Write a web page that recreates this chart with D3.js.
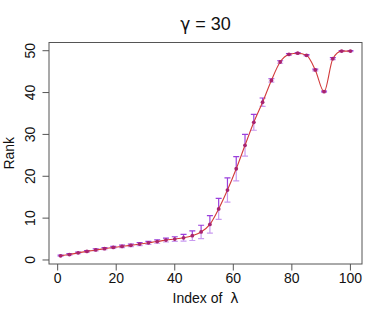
<!DOCTYPE html>
<html><head><meta charset="utf-8">
<script src="https://cdn.jsdelivr.net/npm/d3@7"></script>
<style>body{margin:0;background:#fff}svg{display:block}</style>
</head><body>
<script>
const xIndex = [1,4,7,10,13,16,19,22,25,28,31,34,37,40,43,46,49,52,55,58,61,64,67,70,73,76,79,82,85,88,91,94,97,100];
const rankMean = [1.0,1.3,1.7,2.05,2.4,2.7,3.0,3.25,3.5,3.8,4.1,4.4,4.75,5.0,5.3,5.8,6.7,8.5,12.2,16.7,21.8,27.4,32.9,37.7,42.9,47.3,49.1,49.4,48.9,45.4,40.2,48.1,49.9,49.9];
const rankErr = [0.15,0.2,0.2,0.2,0.25,0.25,0.25,0.3,0.3,0.35,0.35,0.4,0.45,0.55,0.8,1.15,1.6,2.1,2.5,2.9,2.9,2.6,1.9,1.0,0.4,0.3,0.2,0.15,0.15,0.2,0.15,0.25,0.15,0.1];
const xTicks = [0,20,40,60,80,100];
const yTicks = [0,10,20,30,40,50];
const titleSym = "γ", titleRest = " = 30";
const xLabelText = "Index of  ", xLabelSym = "λ";
const yLabel = "Rank";

(function(){
const W = 387, H = 318;
const svg = d3.select("body").append("svg").attr("width", W).attr("height", H);
const pL = 49, pR = 362, pT = 42.5, pB = 264;
const x = d3.scaleLinear().domain([-2.96, 103.96]).range([pL, pR]);
const y = d3.scaleLinear().domain([-0.96, 51.96]).range([pB, pT]);
const font = "Liberation Sans, Arial, Helvetica, sans-serif";
const symFont = "DejaVu Sans, sans-serif";

const data = xIndex.map((d, i) => ({x: d, y: rankMean[i], e: rankErr[i]}));

const capW = 3;
const g = svg.append("g");
data.forEach(d => {
  const cx = x(d.x), cy = y(d.y), lo = y(d.y - d.e), hi = y(d.y + d.e);
  g.append("path").attr("d", `M${cx},${cy}V${lo}M${cx-capW},${lo}H${cx+capW}`)
    .attr("stroke", "#c99af0").attr("stroke-width", 1.2).attr("fill", "none");
  g.append("path").attr("d", `M${cx},${cy}V${hi}M${cx-capW},${hi}H${cx+capW}`)
    .attr("stroke", "#9a3fdc").attr("stroke-width", 1.2).attr("fill", "none");
});

svg.append("path").datum(data)
  .attr("d", d3.line().x(d => x(d.x)).y(d => y(d.y)).curve(d3.curveMonotoneX))
  .attr("fill", "none").attr("stroke", "#d23a3a").attr("stroke-width", 1.1);

svg.append("g").selectAll("circle").data(data).join("circle")
  .attr("cx", d => x(d.x)).attr("cy", d => y(d.y)).attr("r", 1.9)
  .attr("fill", "#a8236e");

svg.append("rect").attr("x", pL).attr("y", pT).attr("width", pR - pL).attr("height", pB - pT)
  .attr("fill", "none").attr("stroke", "#555").attr("stroke-width", 1);

const xa = svg.append("g");
xTicks.forEach(t => {
  xa.append("line").attr("x1", x(t)).attr("x2", x(t)).attr("y1", pB).attr("y2", pB + 6.5)
    .attr("stroke", "#555");
  xa.append("text").attr("x", x(t)).attr("y", 283).attr("text-anchor", "middle")
    .attr("font-family", font).attr("font-size", 14).attr("fill", "#111").text(t);
});
const ya = svg.append("g");
yTicks.forEach(t => {
  ya.append("line").attr("x1", pL).attr("x2", pL - 6.5).attr("y1", y(t)).attr("y2", y(t))
    .attr("stroke", "#555");
  ya.append("text").attr("transform", `translate(35,${y(t)}) rotate(-90)`).attr("text-anchor", "middle")
    .attr("font-family", font).attr("font-size", 14).attr("fill", "#111").text(t);
});

const tt = svg.append("text").attr("x", (pL + pR) / 2).attr("y", 30).attr("text-anchor", "middle")
  .attr("font-family", font).attr("font-size", 18).attr("fill", "#111").style("white-space", "pre");
tt.append("tspan").attr("font-family", symFont).attr("font-size", 17).text(titleSym);
tt.append("tspan").text(titleRest);

const xl = svg.append("text").attr("x", (pL + pR) / 2).attr("y", 303).attr("text-anchor", "middle")
  .attr("font-family", font).attr("font-size", 14).attr("fill", "#111").style("white-space", "pre");
xl.append("tspan").text(xLabelText);
xl.append("tspan").attr("font-family", symFont).attr("font-size", 14).text(xLabelSym);

svg.append("text").attr("transform", `translate(14,${(pT + pB) / 2}) rotate(-90)`).attr("text-anchor", "middle")
  .attr("font-family", font).attr("font-size", 14).attr("fill", "#111").text(yLabel);
})();
</script>
</body></html>
